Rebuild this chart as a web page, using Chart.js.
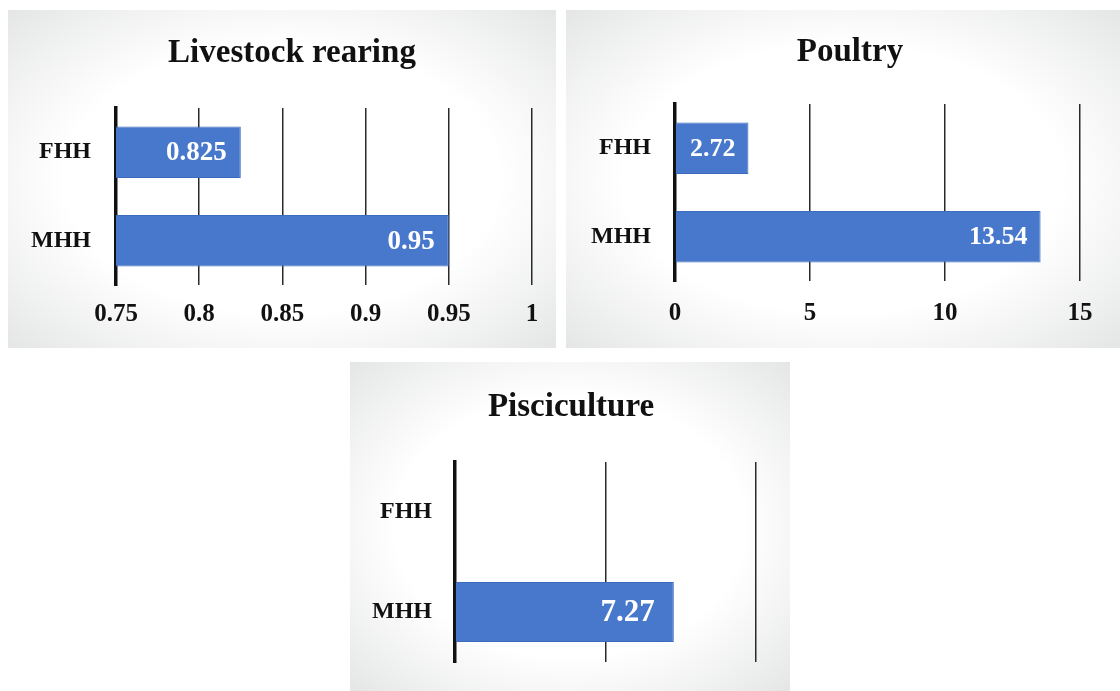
<!DOCTYPE html>
<html>
<head>
<meta charset="utf-8">
<script src="https://cdn.jsdelivr.net/npm/chart.js@4/dist/chart.umd.min.js"></script>
<style>
  html, body { margin: 0; padding: 0; background: #ffffff; overflow: hidden; }
  body { width: 1120px; height: 691px; position: relative; }
  .panel {
    position: absolute;
    background: radial-gradient(ellipse 72% 72% at 50% 50%, #ffffff 55%, #e3e5e4 100%);
  }
  .panel canvas { display: block; }
</style>
</head>
<body>
<div class="panel" style="left:8px; top:10px; width:548px; height:338px;"><canvas id="c1" width="548" height="338"></canvas></div>
<div class="panel" style="left:566px; top:10px; width:554px; height:338px;"><canvas id="c2" width="554" height="338"></canvas></div>
<div class="panel" style="left:350px; top:362px; width:440px; height:329px;"><canvas id="c3" width="440" height="329"></canvas></div>
<script>
// Household groups shown on every panel
const categories = ['FHH', 'MHH'];

// Panel titles
const titles = ['Livestock rearing', 'Poultry', 'Pisciculture'];

// Values per enterprise (FHH, MHH)
const livestockValues = [0.825, 0.95];
const poultryValues = [2.72, 13.54];
const piscicultureValues = [null, 7.27];

// Value-axis ticks
const livestockTicks = [0.75, 0.8, 0.85, 0.9, 0.95, 1];
const poultryTicks = [0, 5, 10, 15];
const piscicultureTicks = [0, 5, 10];

const SERIF = '"Liberation Serif", "Times New Roman", serif';
const BAR_BLUE = '#4878cc';

// Writes each bar's value in white just inside its end
const barValueLabels = {
  id: 'barValueLabels',
  afterDatasetsDraw(chart, args, opts) {
    const ctx = chart.ctx;
    chart.data.datasets.forEach((ds, di) => {
      const meta = chart.getDatasetMeta(di);
      meta.data.forEach((el, i) => {
        const v = ds.data[i];
        if (v === null || v === undefined) return;
        ctx.save();
        ctx.font = 'bold ' + opts.size + 'px ' + SERIF;
        ctx.fillStyle = '#ffffff';
        ctx.textAlign = 'right';
        ctx.textBaseline = 'middle';
        ctx.fillText(String(v), el.x - opts.inset, el.y + 1);
        ctx.restore();
      });
    });
  }
};

// Panel heading, placed freely above the plot
const panelTitle = {
  id: 'panelTitle',
  afterDraw(chart, args, opts) {
    const ctx = chart.ctx;
    ctx.save();
    ctx.font = 'bold ' + opts.size + 'px ' + SERIF;
    ctx.fillStyle = '#111111';
    ctx.textAlign = 'center';
    ctx.textBaseline = 'middle';
    ctx.fillText(opts.text, opts.x, opts.y);
    ctx.restore();
  }
};

function makeChart(id, cfg) {
  return new Chart(document.getElementById(id), {
    type: 'bar',
    data: {
      labels: categories,
      datasets: [{
        data: cfg.values,
        backgroundColor: BAR_BLUE,
        borderColor: '#3d6cbd',
        borderWidth: 1,
        borderSkipped: 'left',
        categoryPercentage: 1,
        barPercentage: cfg.barPct
      }]
    },
    plugins: [barValueLabels, panelTitle],
    options: {
      indexAxis: 'y',
      responsive: false,
      animation: false,
      events: [],
      layout: { padding: { left: 0, right: cfg.padRight, top: cfg.padTop, bottom: 0 } },
      plugins: {
        legend: { display: false },
        tooltip: { enabled: false },
        title: { display: false },
        panelTitle: { text: cfg.title, size: cfg.titleSize, x: cfg.titleX, y: cfg.titleY },
        barValueLabels: { size: cfg.valueSize, inset: cfg.valueInset }
      },
      scales: {
        x: {
          type: 'linear',
          min: cfg.ticks[0],
          max: cfg.ticks[cfg.ticks.length - 1],
          afterBuildTicks(scale) { scale.ticks = cfg.ticks.map(v => ({ value: v })); },
          afterFit(scale) { scale.height = cfg.xHeight; },
          border: { display: false },
          grid: { color: '#2a2a2a', lineWidth: 1.5, drawTicks: false },
          ticks: {
            display: cfg.showTicks,
            color: '#111111',
            padding: cfg.xTickPad,
            maxRotation: 0,
            autoSkip: false,
            font: { family: SERIF, size: cfg.tickSize, weight: 'bold' },
            callback: v => String(v)
          }
        },
        y: {
          afterFit(scale) {
            scale.width = cfg.yWidth;
            // category labels sit well inside the plot, so no extra vertical room is needed
            scale.paddingTop = 0;
            scale.paddingBottom = 0;
          },
          border: { display: true, color: '#111111', width: 3.5 },
          grid: { color: 'rgba(0,0,0,0)', drawTicks: false },
          ticks: {
            color: '#111111',
            padding: cfg.yTickPad,
            font: { family: SERIF, size: cfg.catSize, weight: 'bold' }
          }
        }
      }
    }
  });
}

makeChart('c1', {
  title: titles[0], values: livestockValues, ticks: livestockTicks, showTicks: true,
  yWidth: 108, padRight: 24, padTop: 98, xHeight: 63,
  titleSize: 33, titleX: 284, titleY: 43,
  tickSize: 25, catSize: 24, valueSize: 27, valueInset: 14,
  xTickPad: 15, yTickPad: 25, barPct: 0.58
});

makeChart('c2', {
  title: titles[1], values: poultryValues, ticks: poultryTicks, showTicks: true,
  yWidth: 109, padRight: 40, padTop: 94, xHeight: 67,
  titleSize: 33, titleX: 284, titleY: 42,
  tickSize: 25, catSize: 24, valueSize: 26, valueInset: 13,
  xTickPad: 18, yTickPad: 24, barPct: 0.58
});

makeChart('c3', {
  title: titles[2], values: piscicultureValues, ticks: piscicultureTicks, showTicks: false,
  yWidth: 105, padRight: 34, padTop: 100, xHeight: 29,
  titleSize: 33, titleX: 221, titleY: 45,
  tickSize: 25, catSize: 24, valueSize: 31, valueInset: 19,
  xTickPad: 14, yTickPad: 23, barPct: 0.6
});
</script>
</body>
</html>
